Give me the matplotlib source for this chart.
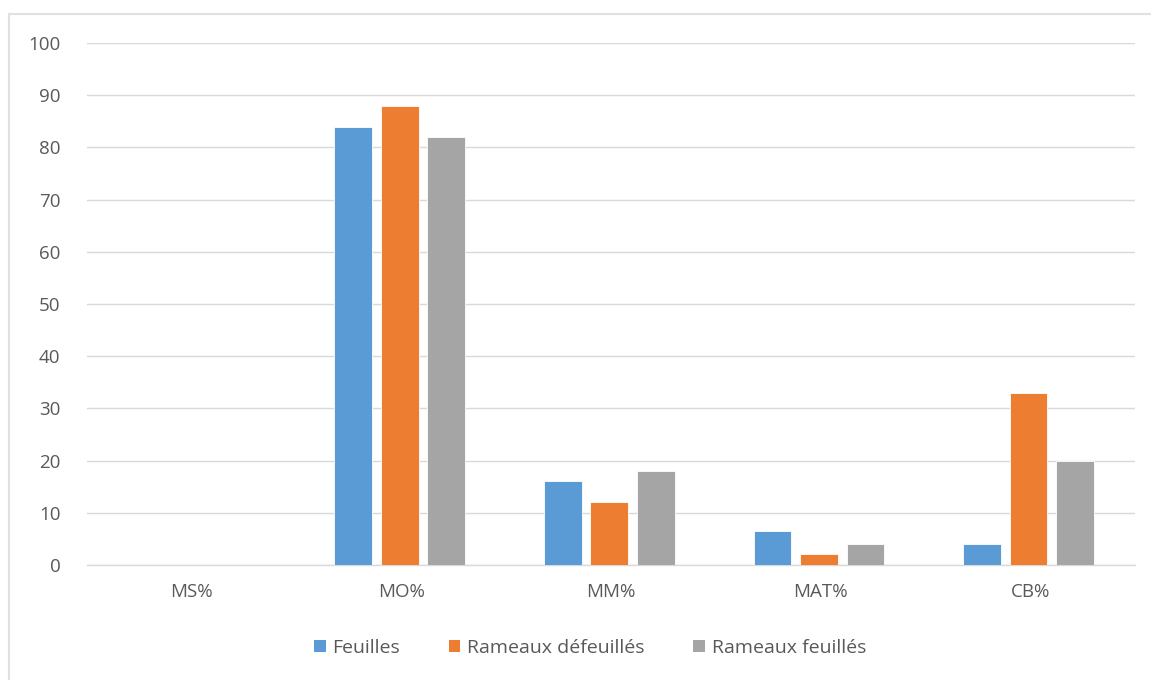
import matplotlib.pyplot as plt
import numpy as np
from matplotlib.lines import Line2D
from matplotlib.patches import Patch

categories = ["MS%", "MO%", "MM%", "MAT%", "CB%"]
feuilles = [0, 84, 16, 6.6, 4]
rameaux_defeuilles = [0, 88, 12, 2.2, 33]
rameaux_feuilles = [0, 82, 18, 4, 20]
series_names = ["Feuilles", "Rameaux défeuillés", "Rameaux feuillés"]
yticks = [0, 10, 20, 30, 40, 50, 60, 70, 80, 90, 100]


def main():
    plt.rcParams["font.family"] = ["Open Sans", "DejaVu Sans"]
    text_color = "#595959"
    colors = ["#5B9BD5", "#ED7D31", "#A5A5A5"]

    fig = plt.figure(figsize=(11.51, 6.8), dpi=100)
    ax = fig.add_axes([87 / 1151, 1 - 565 / 680, 1048 / 1151, 522 / 680])

    x = np.arange(len(categories))
    width = 0.18
    step = 0.222
    for i, (vals, name, c) in enumerate(zip([feuilles, rameaux_defeuilles, rameaux_feuilles], series_names, colors)):
        ax.bar(x + (i - 1) * step - 0.008, vals, width=width, color=c, edgecolor="white",
               linewidth=0.6, label=name, zorder=3)

    ax.set_xlim(-0.5, len(categories) - 0.5)
    ax.set_ylim(0, 100)
    ax.set_yticks(yticks)
    ax.set_xticks(x)
    ax.set_xticklabels(categories)
    ax.yaxis.grid(True, color="#D9D9D9", linewidth=1, zorder=0)
    for s in ["top", "right", "left"]:
        ax.spines[s].set_visible(False)
    ax.spines["bottom"].set_color("#D9D9D9")
    ax.spines["bottom"].set_linewidth(1)
    ax.tick_params(axis="both", length=0, labelsize=13.5, labelcolor=text_color)
    ax.tick_params(axis="y", pad=19)
    ax.tick_params(axis="x", pad=13)

    # outer chart frame (left and top edges visible)
    fig.add_artist(Line2D([9 / 1151, 9 / 1151], [0, 1 - 14 / 680], color="#E0E0E0", linewidth=1.5,
                          transform=fig.transFigure))
    fig.add_artist(Line2D([9 / 1151, 1], [1 - 14 / 680, 1 - 14 / 680], color="#E0E0E0", linewidth=1.5,
                          transform=fig.transFigure))

    handles = [Patch(facecolor=c, edgecolor="none", label=n) for c, n in zip(colors, series_names)]
    leg = fig.legend(handles=handles, loc="center", bbox_to_anchor=(590 / 1151, 1 - 648 / 680),
                     ncol=3, frameon=False, fontsize=14, handlelength=0.6, handleheight=0.6,
                     handletextpad=0.35, columnspacing=2.5)
    for t in leg.get_texts():
        t.set_color(text_color)

    plt.savefig("out.png", dpi=100)


if __name__ == "__main__":
    main()
